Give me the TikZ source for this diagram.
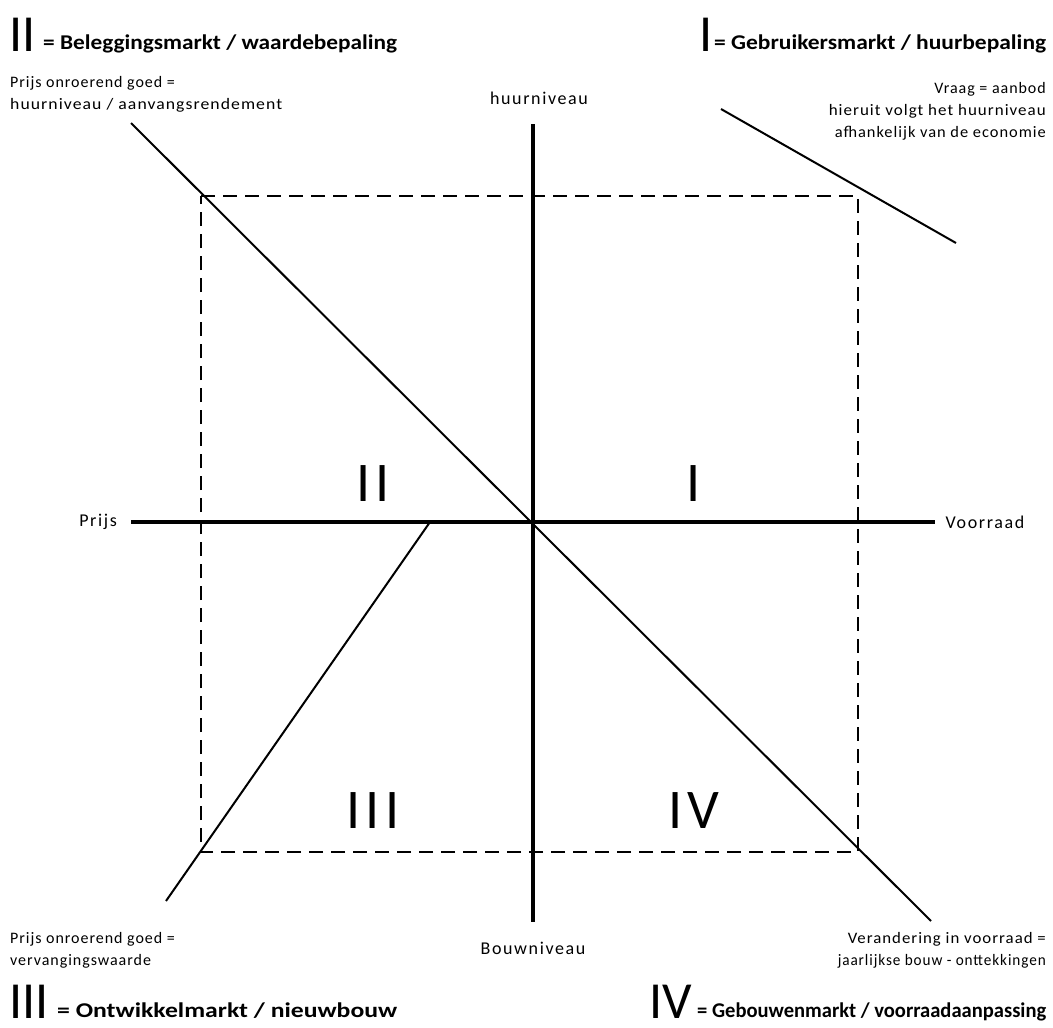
\documentclass[tikz,border=0pt]{standalone}
\usepackage{graphicx}
\usepackage{fontspec}
\setmainfont{Carlito}
\newfontfamily\labfont[LetterSpace=6]{Carlito}
\newfontfamily\axfont[LetterSpace=9]{Carlito}
\newfontfamily\quadfont[LetterSpace=10]{Carlito}
\newcommand\fitwidth[2]{\resizebox{#1}{\height}{#2}}
\begin{document}
\begin{tikzpicture}[x=1pt,y=-1pt,
  axis/.style={line width=3.5pt},
  curve/.style={line width=2pt},
  guide/.style={line width=2pt, dash pattern=on 14pt off 8pt},
  quad/.style={font=\quadfont\fontsize{56}{56}\selectfont, inner sep=0pt},
  lab/.style={font=\labfont\fontsize{16}{22}\selectfont, inner sep=0pt},
  axlab/.style={font=\axfont\fontsize{18}{20}\selectfont, inner sep=0pt},
  bignum/.style={font=\fontsize{52}{52}\selectfont, inner sep=0pt, anchor=base west},
  head/.style={font=\bfseries\fontsize{21}{22}\selectfont, inner sep=0pt, anchor=base west}]
\useasboundingbox (0,0) rectangle (1053,1028);
% axes
\coordinate (xl) at (131,522);
\coordinate (xr) at (935,522);
\coordinate (yt) at (533,124);
\coordinate (yb) at (533,922);
\coordinate (o) at (533,522);
\draw[axis] (xl) -- (xr);
\draw[axis] (yt) -- (yb);
% dashed rectangle
\coordinate (tl) at (201,196);
\coordinate (tr) at (858,196);
\coordinate (br) at (858,852);
\coordinate (bl) at (201,852);
\draw[guide] (tl) -- (tr) -- (br) -- (bl) -- cycle;
% lines
\coordinate (d2a) at (131,123);
\coordinate (d2b) at (931,921);
\draw[curve] (d2a) -- (d2b);
\coordinate (d1a) at (721,109);
\coordinate (d1b) at (956,243);
\draw[curve] (d1a) -- (d1b);
\coordinate (d3a) at (430,522);
\coordinate (d3b) at (166,901);
\draw[curve] (d3a) -- (d3b);
% quadrant labels
\node[quad] (q2) at (373,484) {II};
\node[quad] (q1) at (694,484) {I};
\node[quad] (q3) at (373,811) {III};
\node[quad] (q4) at (694,811) {IV};
% axis labels
\node[axlab, anchor=east] (prijs) at (117,522) {Prijs};
\node[axlab] (voorraad) at (985,522) {Voorraad};
\node[axlab] (huur) at (539,98) {huurniveau};
\node[axlab] (bouw) at (533,948) {Bouwniveau};
% annotations
\node[lab, anchor=north west, align=left] (a2) at (10,76) {Prijs onroerend goed =\\\fitwidth{272pt}{huurniveau / aanvangsrendement}};
\node[lab, anchor=north east, align=right] (a1) at (1046,82) {Vraag = aanbod\\\fitwidth{217pt}{hieruit volgt het huurniveau}\\\fitwidth{211pt}{afhankelijk van de economie}};
\node[lab, anchor=north west, align=left] (a3) at (10,932) {Prijs onroerend goed =\\vervangingswaarde};
\node[lab, anchor=north east, align=right] (a4) at (1046,932) {\fitwidth{198pt}{Verandering in voorraad =}\\\fitwidth{208pt}{jaarlijkse bouw - onttekkingen}};
% headers
\node[bignum] (h2n) at (9,51) {II};
\node[head] (h2) at (43,49) {\fitwidth{354pt}{= Beleggingsmarkt / waardebepaling}};
\node[bignum] (h1n) at (699,51) {I};
\node[head] (h1) at (714,49) {\fitwidth{332pt}{= Gebruikersmarkt / huurbepaling}};
\node[bignum] (h3n) at (9,1018) {III};
\node[head] (h3) at (57,1017) {\fitwidth{340pt}{= Ontwikkelmarkt / nieuwbouw}};
\node[bignum] (h4n) at (649,1018) {IV};
\node[head] (h4) at (697,1017) {\fitwidth{349pt}{= Gebouwenmarkt / voorraadaanpassing}};
\end{tikzpicture}
\end{document}
